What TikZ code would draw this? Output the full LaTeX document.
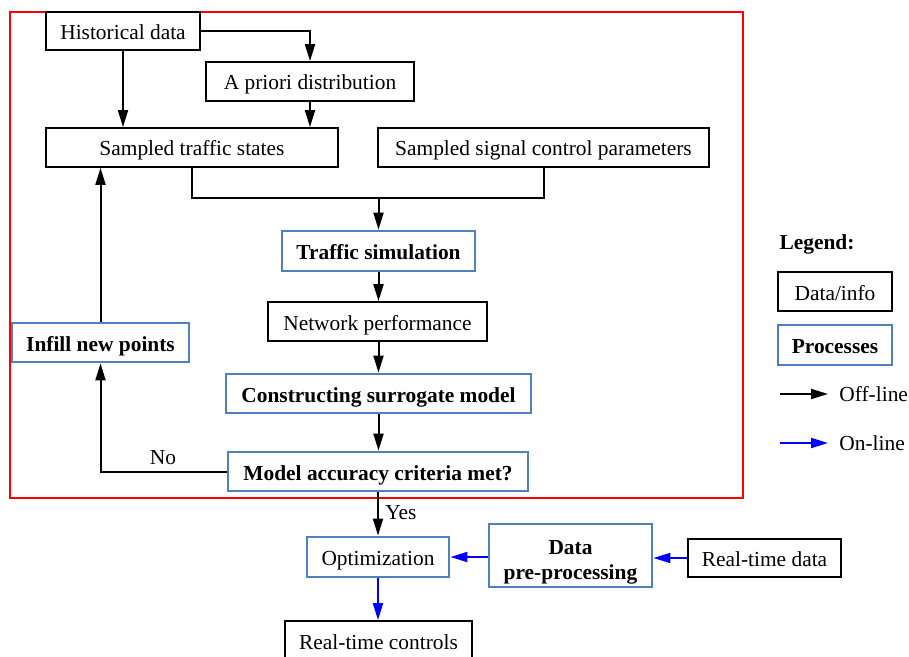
\documentclass[tikz,border=0pt]{standalone}
\usepackage{fontspec}
\setmainfont{Liberation Serif}
\usetikzlibrary{arrows.meta}
\definecolor{procblue}{RGB}{79,129,189}
\definecolor{flowblue}{RGB}{0,0,255}
\definecolor{framered}{RGB}{255,0,0}
\begin{document}
\begin{tikzpicture}[x=0.5pt,y=-0.5pt,
  font=\fontsize{10.7}{12.7}\selectfont,
  databox/.style={draw=black,fill=white,line width=0.9pt,inner sep=0pt,align=center,
    text height=9pt,text depth=0.5pt},
  procbox/.style={draw=procblue,fill=white,line width=1.4pt,inner sep=0pt,align=center,
    text height=9pt,text depth=0.5pt,
    font=\fontsize{10.7}{12.7}\selectfont\bfseries},
  offline/.style={draw=black,line width=1pt,-{Triangle[length=8.5pt,width=5pt]}},
  online/.style={draw=flowblue,fill=flowblue,line width=1pt,-{Triangle[length=8.5pt,width=5pt]}},
  link/.style={draw=black,line width=1pt},
  lbl/.style={inner sep=0pt}]
\useasboundingbox (0,0) rectangle (909,657);

% off-line modelling frame
\draw[framered,line width=1pt] (10,12) rectangle (743,498);

% data / info boxes
\node[databox,minimum width=77pt,minimum height=19pt]    (hist)  at (123,31)    {Historical data};
\node[databox,minimum width=104pt,minimum height=19.5pt] (prior) at (310,81.5)  {A priori distribution};
\node[databox,minimum width=146pt,minimum height=19.5pt] (sts)   at (192,147.5) {Sampled traffic states};
\node[databox,minimum width=165.5pt,minimum height=19.5pt] (sscp) at (543.5,147.5) {Sampled signal control parameters};
\node[databox,minimum width=109.5pt,minimum height=19.5pt] (net) at (377.5,321.5) {Network performance};
\node[databox,minimum width=93.5pt,minimum height=20pt]  (rtc)   at (378.5,641) {Real-time controls};
\node[databox,minimum width=76.5pt,minimum height=19pt]  (rtd)   at (764.5,558) {Real-time data};

% process boxes
\node[procbox,minimum width=96.5pt,minimum height=20pt]  (sim)   at (378.5,251)   {Traffic simulation};
\node[procbox,minimum width=152.5pt,minimum height=19.5pt] (surr) at (378.5,393.5) {Constructing surrogate model};
\node[procbox,minimum width=150pt,minimum height=19.5pt] (acc)   at (378,471.5)   {Model accuracy criteria met?};
\node[procbox,minimum width=88.5pt,minimum height=19.5pt] (infill) at (100.5,342.5) {Infill new points};
\node[procbox,minimum width=71pt,minimum height=20pt,font=\fontsize{10.7}{12.7}\selectfont] (opt) at (378,557) {Optimization};
\node[procbox,minimum width=81.5pt,minimum height=31.5pt,text height=,text depth=] (pre) at (570.5,555.5)
  {\rule{0pt}{14pt}Data\\pre-processing};

% off-line connectors
\draw[offline] (hist.south) -- (hist.south |- sts.north);
\draw[offline] (hist.east) -| (prior.north);
\draw[offline] (prior.south) -- (prior.south |- sts.north);
\coordinate (junc) at (378.5,198);
\draw[link] (sts.south) |- (junc) -| (sscp.south);
\draw[offline] (junc) -- (sim.north);
\draw[offline] (sim.south) -- (sim.south |- net.north);
\draw[offline] (net.south -| sim.south) -- (sim.south |- surr.north);
\draw[offline] (surr.south) -- (surr.south |- acc.north);
\draw[offline] (acc.west) -| (infill.south);
\node[lbl] (no) at (163,458) {No};
\draw[offline] (infill.north) -- (infill.north |- sts.south);
\draw[offline] (acc.south) -- (acc.south |- opt.north);
\node[lbl,anchor=west] (yes) at (385,513) {Yes};

% on-line connectors
\draw[online] (rtd.west) -- (rtd.west -| pre.east);
\draw[online] (pre.west |- opt.east) -- (opt.east);
\draw[online] (opt.south) -- (opt.south |- rtc.north);

% legend
\node[lbl,font=\fontsize{10.7}{12.7}\selectfont\bfseries] (legtitle) at (817,244) {Legend:};
\node[databox,minimum width=57pt,minimum height=19.5pt] (legdata) at (835,291.5) {Data/info};
\node[procbox,minimum width=57pt,minimum height=20pt]   (legproc) at (835,345)   {Processes};
\coordinate (offa) at (780,394);
\coordinate (offb) at (828,394);
\coordinate (ona)  at (780,443);
\coordinate (onb)  at (828,443);
\draw[offline] (offa) -- (offb);
\draw[online]  (ona) -- (onb);
\node[lbl,anchor=west] (offtxt) at (839,394) {Off-line};
\node[lbl,anchor=west] (ontxt)  at (839,443) {On-line};
\end{tikzpicture}
\end{document}
